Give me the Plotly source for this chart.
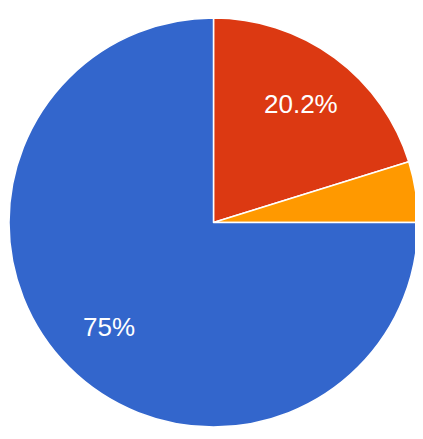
import math
import plotly.graph_objects as go

labels = ["B", "C", "A"]
values = [20.2, 4.8, 75.0]
colors = ["#dc3912", "#ff9900", "#3366cc"]
label_min_pct = 5.0  # slices below this get no label

fig = go.Figure(go.Pie(
    labels=labels,
    values=values,
    sort=False,
    direction="clockwise",
    rotation=0,
    marker=dict(colors=colors, line=dict(color="white", width=1.5)),
    textinfo="none",
    hoverinfo="label+percent",
))

# place percent labels like Google Charts (further out than plotly's default)
total = sum(values)
cum = 0.0
for v in values:
    pct = 100.0 * v / total
    mid = (cum + v / 2) / total * 2 * math.pi
    cum += v
    if pct < label_min_pct:
        continue
    f = 0.72
    x = 0.5 + 0.5 * f * math.sin(mid)
    y = 0.5 + 0.5 * f * math.cos(mid)
    txt = ("%.1f" % pct).rstrip("0").rstrip(".") + "%"
    fig.add_annotation(x=x, y=y, xref="paper", yref="paper", text=txt,
                       showarrow=False, xanchor="center", yanchor="middle",
                       font=dict(family="Liberation Sans, Arial, sans-serif", size=26, color="white"))

fig.update_layout(
    width=423, height=439,
    margin=dict(l=1, r=13, t=10, b=20),
    showlegend=False,
    paper_bgcolor="white",
)
fig.write_html("out.html")
